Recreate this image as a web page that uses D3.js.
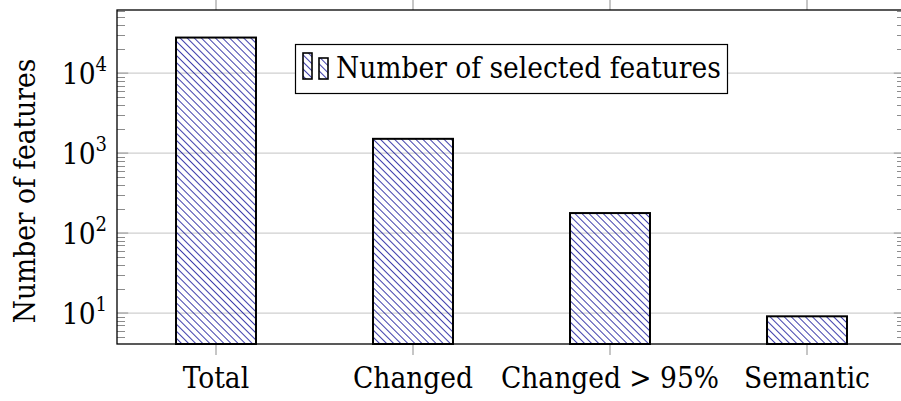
<!DOCTYPE html>
<html>
<head>
<meta charset="utf-8">
<script src="https://cdn.jsdelivr.net/npm/d3@7"></script>
<style>
   body { margin: 0; background: #fff; }
   svg { display: block; }
</style>
</head>
<body>
<svg id="chart" width="901" height="401"></svg>
<script>
// values (log scale)
const categories = [ 'Total', 'Changed', 'Changed > 95%', 'Semantic' ];
const selectedFeatures = [ 27900, 1510, 178, 9.1 ];
const yTickValues = [ 10, 100, 1000, 10000 ];
const yTickExponents = [ '1', '2', '3', '4' ];
const seriesName = 'Number of selected features';
const yLabel = 'Number of features';

const svg = d3.select( '#chart' );
const plot = { left: 117, right: 905, top: 10, bottom: 344 };
const fontFamily = 'DejaVu Serif Condensed, DejaVu Serif';
const fontSize = 29.5;

const x = d3.scaleBand()
   .domain( categories )
   .range( [ plot.left + 0.5, plot.right + 0.5 ] )
   .paddingInner( 0.594 )
   .paddingOuter( 0.297 );

const y = d3.scaleLog()
   .domain( [ 4.1, 61700 ] )
   .range( [ plot.bottom, plot.top ] );

///////////////////////////////////////////////////////////////////////////////////////////////////////////////////////

// hatch pattern, north west lines
const defs = svg.append( 'defs' );
defs.append( 'pattern' )
   .attr( 'id', 'hatch' )
   .attr( 'patternUnits', 'userSpaceOnUse' )
   .attr( 'width', 5 )
   .attr( 'height', 5 )
   .attr( 'patternTransform', 'rotate(-45)' )
   .append( 'line' )
   .attr( 'x1', 0 ).attr( 'y1', -1 )
   .attr( 'x2', 0 ).attr( 'y2', 6 )
   .attr( 'stroke', '#000090' )
   .attr( 'stroke-width', 1.5 );

// grid lines at decades
svg.append( 'g' )
   .selectAll( 'line' )
   .data( yTickValues )
   .join( 'line' )
   .attr( 'x1', plot.left ).attr( 'x2', plot.right )
   .attr( 'y1', d => y( d ) ).attr( 'y2', d => y( d ) )
   .attr( 'stroke', '#cfcfcf' )
   .attr( 'stroke-width', 1.2 );

// minor ticks, left and right, inside
const [ lo, hi ] = y.domain();
const minorTicks = y.ticks( 40 ).filter( d => d >= lo && d <= hi && !yTickValues.includes( d ) );
const tickGroup = svg.append( 'g' ).attr( 'stroke', '#8c8c8c' ).attr( 'stroke-width', 1 );
[ [ plot.left, 8 ], [ plot.right, -8 ] ].forEach( ( [ x0, len ] ) => {
   tickGroup.append( 'g' )
      .selectAll( 'line' )
      .data( minorTicks )
      .join( 'line' )
      .attr( 'x1', x0 ).attr( 'x2', x0 + len )
      .attr( 'y1', d => Math.round( y( d ) ) + 0.5 ).attr( 'y2', d => Math.round( y( d ) ) + 0.5 );
   tickGroup.append( 'g' )
      .selectAll( 'line' )
      .data( yTickValues )
      .join( 'line' )
      .attr( 'x1', x0 ).attr( 'x2', x0 + len * 1.4 )
      .attr( 'y1', d => y( d ) ).attr( 'y2', d => y( d ) )
      .attr( 'stroke', '#aaaaaa' )
      .attr( 'stroke-width', 1.4 );
} );

// x ticks, outside at top and bottom
const xCenter = d => x( d ) + x.bandwidth() / 2;
[ [ plot.top, -10 ], [ plot.bottom, 11 ] ].forEach( ( [ y0, len ] ) => {
   svg.append( 'g' )
      .selectAll( 'line' )
      .data( categories )
      .join( 'line' )
      .attr( 'x1', d => xCenter( d ) ).attr( 'x2', d => xCenter( d ) )
      .attr( 'y1', y0 ).attr( 'y2', y0 + len )
      .attr( 'stroke', '#a8a8a8' )
      .attr( 'stroke-width', 1.3 );
} );

// bars
svg.append( 'g' )
   .selectAll( 'rect' )
   .data( categories.map( ( c, i ) => ( { c, v: selectedFeatures[ i ] } ) ) )
   .join( 'rect' )
   .attr( 'x', d => x( d.c ) )
   .attr( 'width', x.bandwidth() )
   .attr( 'y', d => y( d.v ) )
   .attr( 'height', d => plot.bottom - y( d.v ) )
   .attr( 'fill', 'url(#hatch)' )
   .attr( 'stroke', '#000' )
   .attr( 'stroke-width', 2 );

// frame
svg.append( 'rect' )
   .attr( 'x', plot.left ).attr( 'y', plot.top )
   .attr( 'width', plot.right - plot.left ).attr( 'height', plot.bottom - plot.top )
   .attr( 'fill', 'none' )
   .attr( 'stroke', '#000' )
   .attr( 'stroke-width', 1.3 );

///////////////////////////////////////////////////////////////////////////////////////////////////////////////////////

const texts = svg.append( 'g' )
   .attr( 'font-family', fontFamily )
   .attr( 'font-size', fontSize );

// tick labels
const yLabels = texts.append( 'g' )
   .selectAll( 'text' )
   .data( yTickValues )
   .join( 'text' )
   .attr( 'x', 107 )
   .attr( 'y', d => y( d ) + 11 )
   .attr( 'text-anchor', 'end' );
yLabels.append( 'tspan' ).text( '10' );
yLabels.append( 'tspan' )
   .attr( 'dy', -13 )
   .attr( 'font-size', 20 )
   .text( ( d, i ) => yTickExponents[ i ] );

texts.append( 'g' )
   .selectAll( 'text' )
   .data( categories )
   .join( 'text' )
   .attr( 'x', d => xCenter( d ) )
   .attr( 'y', 388 )
   .attr( 'text-anchor', 'middle' )
   .text( d => d );

texts.append( 'text' )
   .attr( 'transform', 'translate(35,191) rotate(-90)' )
   .attr( 'text-anchor', 'middle' )
   .text( yLabel );

// legend
const legend = svg.append( 'g' );
legend.append( 'rect' )
   .attr( 'x', 295.5 ).attr( 'y', 44.5 )
   .attr( 'width', 432 ).attr( 'height', 49 )
   .attr( 'fill', '#fff' )
   .attr( 'stroke', '#000' )
   .attr( 'stroke-width', 1.2 );
[ [ 303, 53 ], [ 319, 58 ] ].forEach( ( [ lx, ly ] ) => {
   legend.append( 'rect' )
      .attr( 'x', lx ).attr( 'y', ly )
      .attr( 'width', 9 ).attr( 'height', 79 - ly )
      .attr( 'fill', 'url(#hatch)' )
      .attr( 'stroke', '#000' )
      .attr( 'stroke-width', 1.6 );
} );
legend.append( 'text' )
   .attr( 'x', 336 )
   .attr( 'y', 78 )
   .attr( 'font-family', fontFamily )
   .attr( 'font-size', fontSize )
   .text( seriesName );
</script>
</body>
</html>
